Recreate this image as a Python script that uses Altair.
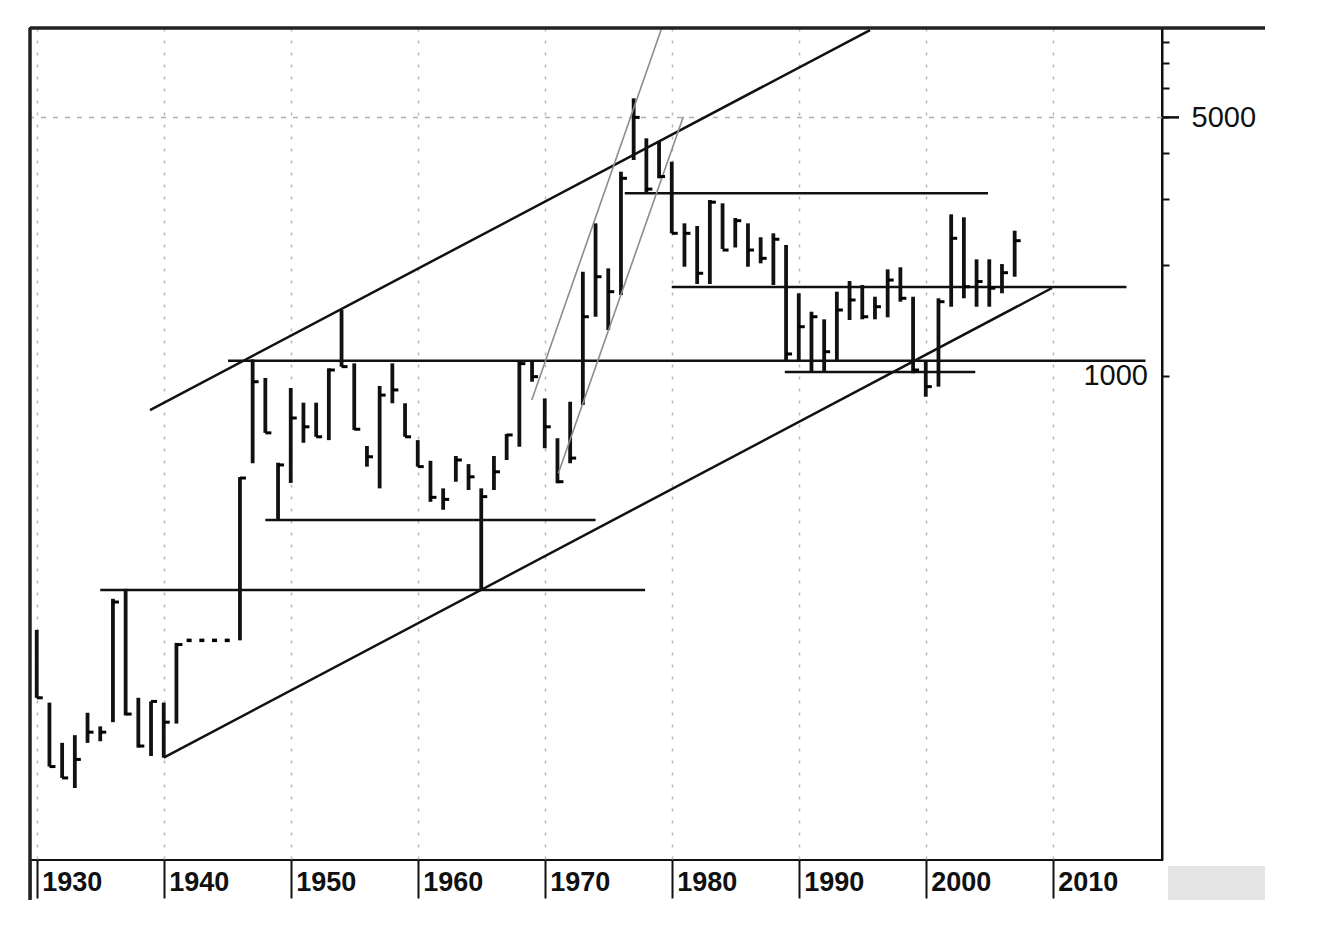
import altair as alt
import pandas as pd

# ---- yearly high / low / close (log scale) ----
years = [1930, 1931, 1932, 1933, 1934, 1935, 1936, 1937, 1938, 1939, 1940, 1941,
         1946, 1947, 1948, 1949, 1950, 1951, 1952, 1953, 1954, 1955, 1956, 1957,
         1958, 1959, 1960, 1961, 1962, 1963, 1964, 1965, 1966, 1967, 1968, 1969,
         1970, 1971, 1972, 1973, 1974, 1975, 1976, 1977, 1978, 1979, 1980, 1981,
         1982, 1983, 1984, 1985, 1986, 1987, 1988, 1989, 1990, 1991, 1992, 1993,
         1994, 1995, 1996, 1997, 1998, 1999, 2000, 2001, 2002, 2003, 2004, 2005,
         2006, 2007]
highs = [206, 131, 102, 107, 123, 113, 250, 266, 135, 132, 131, 190,
         533, 1109, 988, 583, 928, 847, 847, 1049, 1508, 1082, 647, 940,
         1082, 844, 671, 590, 497, 608, 578, 497, 608, 697, 1105, 1105,
         870, 679, 852, 1914, 2586, 1954, 3566, 5630, 4389, 4297, 3795, 2586,
         2543, 2990, 2929, 2673, 2586, 2371, 2430, 2260, 1673, 1492, 1423, 1690,
         1806, 1762, 1638, 1942, 1967, 1638, 1105, 1622, 2735, 2685, 2067, 2067,
         2007, 2470]
lows = [135, 88, 82, 77, 102, 103, 116, 121, 99, 94, 93, 115,
        193, 581, 702, 408, 514, 660, 685, 671, 1060, 715, 569, 497,
        844, 685, 569, 457, 435, 518, 492, 264, 492, 593, 644, 965,
        638, 513, 581, 835, 1446, 1331, 1655, 3835, 3117, 3422, 2430, 1974,
        1773, 1773, 2204, 2225, 1974, 2016, 1762, 1093, 1093, 1027, 1027, 1105,
        1417, 1423, 1423, 1441, 1588, 1017, 879, 936, 1539, 1622, 1539, 1539,
        1673, 1855]
closes = [135, 88, 82, 92, 109, 109, 245, 122, 100, 132, 116, 188,
          530, 965, 702, 575, 770, 729, 685, 1038, 1060, 718, 605, 888,
          917, 685, 569, 470, 464, 593, 534, 472, 551, 693, 1080, 996,
          729, 518, 600, 1446, 1855, 1690, 3422, 5000, 3200, 3460, 2430, 2430,
          1895, 2950, 2190, 2629, 2190, 2080, 2342, 1147, 1359, 1446, 1163, 1508,
          1605, 1446, 1539, 1817, 1622, 1038, 936, 1588, 2356, 1743, 1800, 1727,
          1902, 2321]

# years without trading (dotted)
gap_years = [1942, 1943, 1944, 1945]
gap_values = [193, 193, 193, 193]

# ---- drawn trend / support lines: start year, start value, end year, end value ----
seg_x1 = [1938.92, 1940.0, 1935.0, 1948.0, 1945.06, 1976.3, 1980.0, 1988.9, 1968.98, 1971.07]
seg_y1 = [809, 93, 264, 408, 1100, 3120, 1740, 1025, 861, 546]
seg_x2 = [1995.61, 2009.94, 1977.9, 1974.0, 2017.3, 2004.9, 2015.8, 2003.9, 1979.21, 1980.91]
seg_y2 = [8610, 1729, 264, 408, 1100, 3120, 1740, 1025, 8720, 5020]
seg_kind = ["main"] * 8 + ["steep"] * 2

x_ticks = [1930, 1940, 1950, 1960, 1970, 1980, 1990, 2000, 2010]
y_ticks = [1000, 2000, 3000, 4000, 5000, 6000, 7000, 8000]
x_min, x_max = 1929.47, 2018.6
y_min, y_max = 49.2, 8720

bars = pd.DataFrame({"year": years, "high": highs, "low": lows, "close": closes})
gaps = pd.DataFrame({"year": gap_years, "value": gap_values})
segs = pd.DataFrame({"x1": seg_x1, "y1": seg_y1, "x2": seg_x2, "y2": seg_y2, "kind": seg_kind})
one = pd.DataFrame({"a": [0]})

W, H = 1132, 832
INK = "#111111"
SANS = "Liberation Sans, Arial, sans-serif"

xs = alt.Scale(domain=[x_min, x_max], nice=False, zero=False)
ys = alt.Scale(type="log", domain=[y_min, y_max], nice=False)

x_axis = alt.Axis(
    values=[x_min] + x_ticks,
    labelExpr="datum.value < 1929.9 ? '' : format(datum.value, 'd')",
    tickSize=38, tickWidth=2, tickColor=INK, domain=False,
    grid=True, gridColor="#b8b8b8", gridDash=[3, 9], gridWidth=1.5,
    labelFont=SANS, labelFontSize=27, labelFontWeight="bold", labelColor=INK,
    labelAlign="left", labelBaseline="middle", labelPadding=-16, labelOffset=5,
    labelOverlap=False, labelFlush=False, labelBound=False, title=None,
)
y_axis = alt.Axis(
    orient="right", values=y_ticks,
    labelExpr="datum.value == 5000 ? '5000' : ''",
    tickSize=7, tickWidth=2, tickColor=INK, domainColor=INK, domainWidth=2,
    labelFont=SANS, labelFontSize=29, labelColor=INK,
    labelPadding=22, labelBaseline="middle", labelOverlap=False,
    grid=False, title=None,
)

grid5000 = alt.Chart(one).mark_rule(color="#b0b0b0", strokeWidth=1.5, strokeDash=[5, 7]).encode(
    y=alt.Y(datum=5000, scale=ys)
)

main_lines = alt.Chart(segs).transform_filter(alt.datum.kind == "main").mark_rule(
    color=INK, strokeWidth=2.5
).encode(
    x=alt.X("x1:Q", scale=xs), x2="x2:Q",
    y=alt.Y("y1:Q", scale=ys), y2="y2:Q",
)
steep_lines = alt.Chart(segs).transform_filter(alt.datum.kind == "steep").mark_rule(
    color="#8c8c8c", strokeWidth=1.6
).encode(
    x=alt.X("x1:Q", scale=xs), x2="x2:Q",
    y=alt.Y("y1:Q", scale=ys), y2="y2:Q",
)

bar_rules = alt.Chart(bars).mark_rule(color=INK, strokeWidth=3.8).encode(
    x=alt.X("year:Q", scale=xs, axis=x_axis),
    y=alt.Y("low:Q", scale=ys, axis=y_axis),
    y2="high:Q",
)
close_ticks = alt.Chart(bars).mark_tick(
    orient="horizontal", size=6, thickness=3, xOffset=3, color="#000000", opacity=1
).encode(
    x=alt.X("year:Q", scale=xs), y=alt.Y("close:Q", scale=ys)
)
gap_dots = alt.Chart(gaps).mark_tick(
    orient="horizontal", size=5, thickness=3.5, color="#000000", opacity=1
).encode(
    x=alt.X("year:Q", scale=xs), y=alt.Y("value:Q", scale=ys)
)

label_1000 = alt.Chart(one).mark_text(
    align="right", baseline="middle", dx=-14, fontSize=29, font=SANS, color=INK
).encode(
    x=alt.X(datum=x_max, scale=xs), y=alt.Y(datum=1000, scale=ys), text=alt.value("1000")
)

tick5000 = alt.Chart(one).mark_rule(color=INK, strokeWidth=2.5).encode(
    x=alt.value(W), x2=alt.value(W + 17), y=alt.Y(datum=5000, scale=ys)
)

# frame decorations
top_border = alt.Chart(one).mark_rule(color="#222222", strokeWidth=3.5).encode(
    x=alt.value(0), x2=alt.value(W + 103), y=alt.value(0)
)
left_border = alt.Chart(one).mark_rule(color="#222222", strokeWidth=3.5).encode(
    x=alt.value(0), y=alt.value(0), y2=alt.value(H + 40)
)
grey_box = alt.Chart(one).mark_rect(color="#e4e4e4").encode(
    x=alt.value(W + 6), x2=alt.value(W + 103), y=alt.value(H + 6), y2=alt.value(H + 40)
)

chart = alt.layer(
    grid5000, bar_rules, main_lines, steep_lines, close_ticks, gap_dots,
    label_1000, tick5000, top_border, left_border, grey_box,
).properties(
    width=W, height=H,
    autosize=alt.AutoSizeParams(type="none"),
    padding={"left": 22, "top": 20, "right": 130, "bottom": 50},
    background="white",
).configure_view(stroke=INK, strokeWidth=2)

chart.save("out.html", embed_options={"renderer": "svg", "actions": False})
